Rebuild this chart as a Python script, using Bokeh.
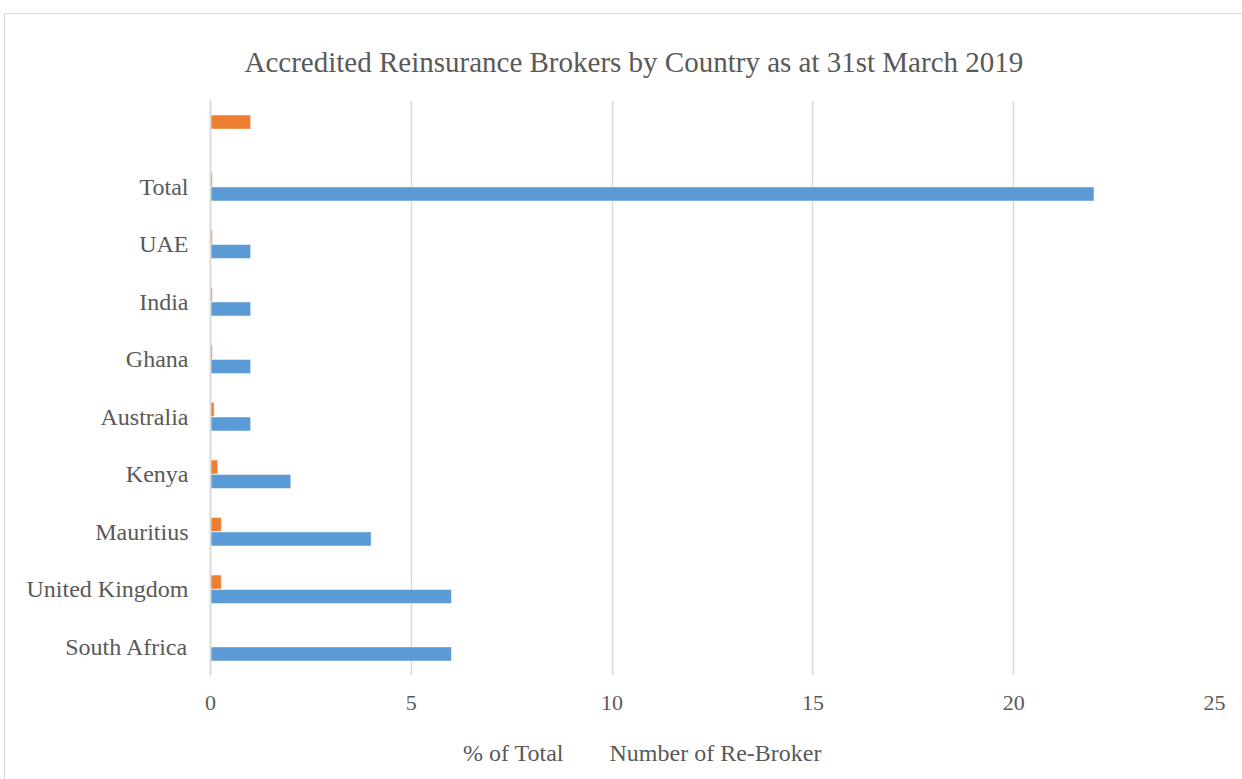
from bokeh.plotting import figure
from bokeh.layouts import column
from bokeh.models import (ColumnDataSource, Legend, LegendItem, Title, FactorRange,
                          SingleIntervalTicker, CDSView, IndexFilter)
from bokeh.transform import dodge
from bokeh.embed import file_html
from bokeh.resources import INLINE

categories = ["South Africa", "United Kingdom", "Mauritius", "Kenya", "Australia",
              "Ghana", "India", "UAE", "Total", " "]
num_rebroker = [6, 6, 4, 2, 1, 1, 1, 1, 22, 0]
pct_total = [0.0, 0.27, 0.27, 0.18, 0.09, 0.045, 0.045, 0.045, 0.045, 1.0]

src = ColumnDataSource(dict(cat=categories, num=num_rebroker, pct=pct_total))

FONT = "Liberation Serif"
GREY = "#595959"
ORANGE = "#ED7D31"
BLUE = "#5B9BD5"

p = figure(frame_width=1004, frame_height=575, y_range=FactorRange(*categories), x_range=(0, 25),
           output_backend="svg", toolbar_location=None,
           min_border_left=205, min_border_right=29, min_border_top=86, min_border_bottom=45)
p.outline_line_color = None

p.hbar(y=dodge("cat", 0.125, range=p.y_range), right="pct", left=0, height=0.245,
       source=src, fill_color=ORANGE, line_color="white", line_width=0.5)
p.hbar(y=dodge("cat", -0.125, range=p.y_range), right="num", left=0, height=0.245,
       source=src, fill_color=BLUE, line_color="white", line_width=0.5)

p.xaxis.ticker = SingleIntervalTicker(interval=5)
p.xaxis.axis_line_color = None
p.xaxis.major_tick_line_color = None
p.xaxis.minor_tick_line_color = None
p.xaxis.major_label_text_font = FONT
p.xaxis.major_label_text_font_size = "22px"
p.xaxis.major_label_text_color = GREY
p.xaxis.major_label_standoff = 14

p.yaxis.axis_line_color = "#d9d9d9"
p.yaxis.axis_line_width = 2
p.yaxis.major_tick_line_color = None
p.yaxis.minor_tick_line_color = None
p.yaxis.major_label_text_font = FONT
p.yaxis.major_label_text_font_size = "24px"
p.yaxis.major_label_text_color = GREY
p.yaxis.major_label_standoff = 16

p.xgrid.grid_line_color = "#d9d9d9"
p.xgrid.grid_line_width = 1.5
p.ygrid.grid_line_color = None

t = Title(text="Accredited Reinsurance Brokers by Country as at  31st March 2019",
          align="left", text_font=FONT, text_font_size="29px", text_color=GREY,
          text_font_style="normal", standoff=46, offset=34)
p.add_layout(t, "above")

# legend strip below the chart (proxy renderers with everything filtered out)
p2 = figure(width=1238, height=66, y_range=FactorRange(*categories), x_range=(0, 25),
            output_backend="svg", toolbar_location=None,
            x_axis_location=None, y_axis_location=None,
            min_border_left=0, min_border_right=0, min_border_top=0, min_border_bottom=0)
p2.outline_line_color = None
p2.xgrid.grid_line_color = None
p2.ygrid.grid_line_color = None
empty = CDSView(filter=IndexFilter([]))
l1 = p2.hbar(y="cat", right="pct", left=0, height=0.245, source=src, view=empty,
             fill_color=ORANGE, line_color=None)
l2 = p2.hbar(y="cat", right="num", left=0, height=0.245, source=src, view=empty,
             fill_color=BLUE, line_color=None)

legend = Legend(items=[LegendItem(label="% of Total", renderers=[l1]),
                       LegendItem(label="Number of Re-Broker", renderers=[l2])],
                orientation="horizontal", location=(237, 19), margin=0, padding=0,
                label_text_font=FONT, label_text_font_size="24px", label_text_color=GREY,
                glyph_width=10, glyph_height=10, spacing=30, label_standoff=6,
                border_line_color=None, background_fill_alpha=0)
p2.add_layout(legend, "center")

layout = column(p, p2, spacing=0)
layout.margin = (13, 0, 0, 4)
layout.styles = {"border": "1px solid #d9d9d9"}

open("out.html", "w").write(file_html(layout, INLINE))
